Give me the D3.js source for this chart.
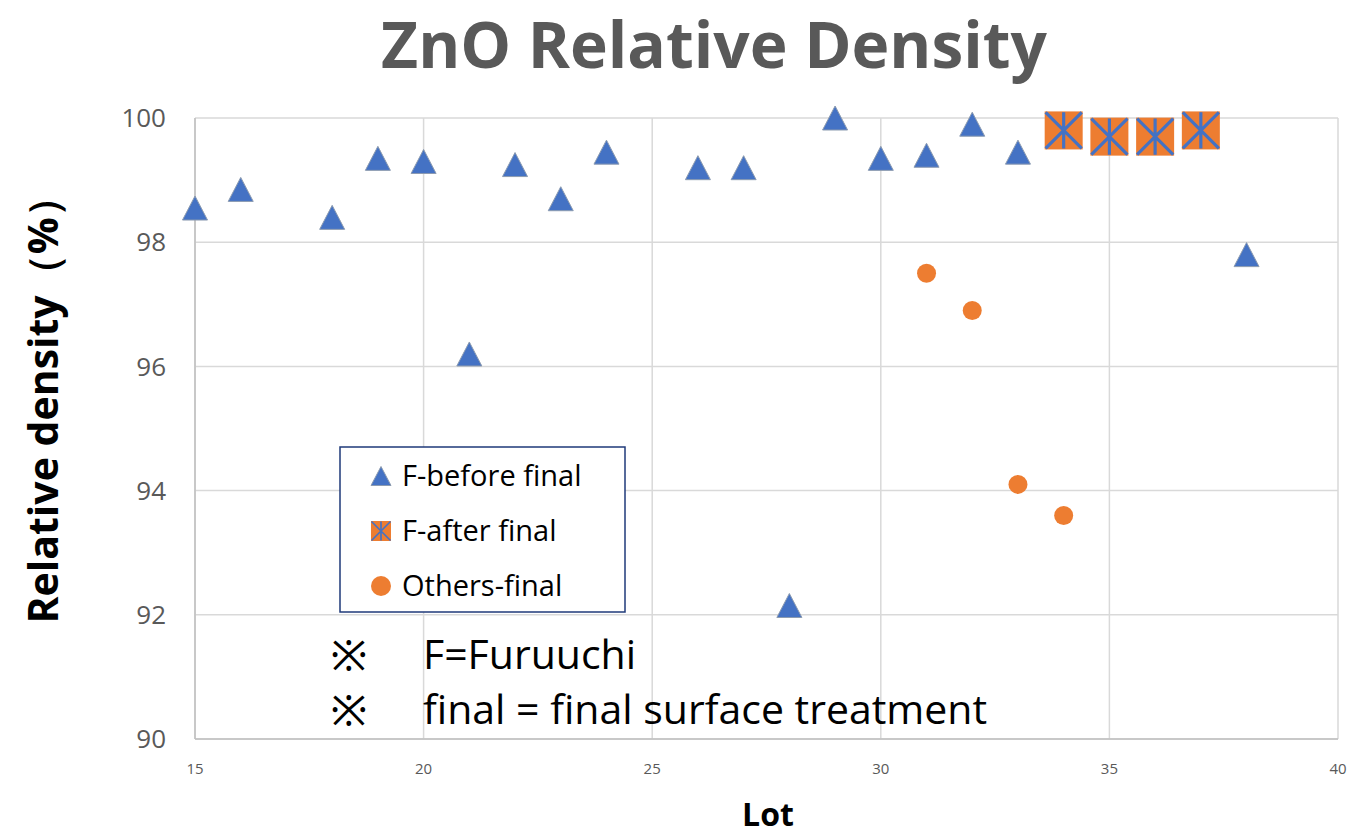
<!DOCTYPE html>
<html>
<head>
<meta charset="utf-8">
<script src="https://cdn.jsdelivr.net/npm/d3@7"></script>
<style>
  body { margin: 0; background: #fff; }
  text { font-family: "Open Sans", "Noto Sans", sans-serif; }
</style>
</head>
<body>
<div id="viz"></div>
<script>
const beforeLots = [15, 16, 18, 19, 20, 21, 22, 23, 24, 26, 27, 28, 29, 30, 31, 32, 33, 38];
const beforeVals = [98.55, 98.85, 98.4, 99.35, 99.3, 96.2, 99.25, 98.7, 99.45, 99.2, 99.2, 92.15, 100, 99.35, 99.4, 99.9, 99.45, 97.8];
const afterLots = [34, 35, 36, 37];
const afterVals = [99.8, 99.7, 99.7, 99.8];
const otherLots = [31, 32, 33, 34];
const otherVals = [97.5, 96.9, 94.1, 93.6];
const xTicks = [15, 20, 25, 30, 35, 40];
const yTicks = [90, 92, 94, 96, 98, 100];
const legendLabels = ['F-before final', 'F-after final', 'Others-final'];
const notes = ['F=Furuuchi', 'final = final surface treatment'];

const BLUE = '#4472c4', ORANGE = '#ed7d31', GRID = '#d9d9d9', GRAY = '#595959';

const svg = d3.select('#viz').append('svg')
  .attr('width', 1359).attr('height', 834);

const x = d3.scaleLinear().domain([15, 40]).range([195, 1338]);
const y = d3.scaleLinear().domain([90, 100]).range([739, 118]);

// grid
svg.append('g').selectAll('line').data(yTicks).join('line')
  .attr('x1', x(15)).attr('x2', x(40))
  .attr('y1', d => y(d)).attr('y2', d => y(d))
  .attr('stroke', GRID).attr('stroke-width', 1.5);
svg.append('g').selectAll('line').data(xTicks).join('line')
  .attr('x1', d => x(d)).attr('x2', d => x(d))
  .attr('y1', y(90)).attr('y2', y(100))
  .attr('stroke', GRID).attr('stroke-width', 1.5);
svg.append('line')
  .attr('x1', x(15)).attr('x2', x(40)).attr('y1', y(90)).attr('y2', y(90))
  .attr('stroke', '#bfbfbf').attr('stroke-width', 1.5);
svg.append('line')
  .attr('x1', x(15)).attr('x2', x(15)).attr('y1', y(90)).attr('y2', y(100))
  .attr('stroke', '#bfbfbf').attr('stroke-width', 1.5);

// tick labels
svg.append('g').selectAll('text').data(yTicks).join('text')
  .attr('x', 166).attr('y', d => y(d)).attr('dy', '0.35em')
  .attr('text-anchor', 'end').attr('font-size', 26).attr('fill', GRAY)
  .text(d => d);
svg.append('g').selectAll('text').data(xTicks).join('text')
  .attr('x', d => x(d)).attr('y', 774)
  .attr('text-anchor', 'middle').attr('font-size', 15).attr('fill', GRAY)
  .text(d => d);

// titles
svg.append('text').attr('x', 714).attr('y', 68)
  .attr('text-anchor', 'middle').attr('font-size', 64).attr('font-weight', 'bold')
  .attr('fill', GRAY).text('ZnO Relative Density');
svg.append('text').attr('x', 768).attr('y', 826)
  .attr('text-anchor', 'middle').attr('font-size', 32).attr('font-weight', 'bold')
  .attr('fill', '#000').text('Lot');
svg.append('text')
  .attr('transform', 'translate(58,400) rotate(-90)')
  .attr('text-anchor', 'middle').attr('font-size', 41).attr('font-weight', 'bold')
  .attr('fill', '#000').text('Relative density（%）');

// markers
function drawTri(g, cx, cy, w, h) {
  g.append('path')
    .attr('d', `M0,${-h / 2}L${w / 2},${h / 2}L${-w / 2},${h / 2}Z`)
    .attr('transform', `translate(${cx},${cy})`)
    .attr('fill', BLUE).attr('stroke', '#8c9bb0').attr('stroke-width', 1);
}
function drawSq(g, cx, cy, h) {
  const s = g.append('g').attr('transform', `translate(${cx},${cy})`);
  s.append('rect').attr('x', -h).attr('y', -h).attr('width', 2 * h).attr('height', 2 * h)
    .attr('fill', ORANGE);
  const k = h * 0.95;
  s.append('path')
    .attr('d', `M${-k},${-k}L${k},${k}M${-k},${k}L${k},${-k}M0,${-k}L0,${k}`)
    .attr('stroke', BLUE).attr('stroke-width', h / 6);
}

const before = beforeLots.map((l, i) => ({ lot: l, v: beforeVals[i] }));
const after = afterLots.map((l, i) => ({ lot: l, v: afterVals[i] }));
const others = otherLots.map((l, i) => ({ lot: l, v: otherVals[i] }));

const gm = svg.append('g');
after.forEach(d => drawSq(gm, x(d.lot), y(d.v), 19));
gm.selectAll('circle').data(others).join('circle')
  .attr('cx', d => x(d.lot)).attr('cy', d => y(d.v)).attr('r', 9.5)
  .attr('fill', ORANGE);
before.forEach(d => drawTri(gm, x(d.lot), y(d.v), 25, 24));

// legend
const lg = svg.append('g');
lg.append('rect').attr('x', 340).attr('y', 447).attr('width', 285).attr('height', 165)
  .attr('fill', '#fff').attr('stroke', '#1f3a7a').attr('stroke-width', 1.5);
const rowY = [476, 531, 586];
drawTri(lg, 381, rowY[0], 20, 19);
drawSq(lg, 381, rowY[1], 10);
lg.append('circle').attr('cx', 381).attr('cy', rowY[2]).attr('r', 10).attr('fill', ORANGE);
lg.selectAll('text').data(legendLabels).join('text')
  .attr('x', 402).attr('y', (d, i) => rowY[i]).attr('dy', '0.35em')
  .attr('font-size', 29).attr('fill', '#000').text(d => d);

// notes
notes.forEach((n, i) => {
  const cy = 655 + i * 55;
  svg.append('text').attr('x', 349).attr('y', cy).attr('dy', '0.36em')
    .attr('text-anchor', 'middle').attr('font-size', 44)
    .attr('font-family', '"Noto Sans CJK JP", sans-serif').attr('fill', '#000').text('※');
  svg.append('text').attr('x', 423).attr('y', cy).attr('dy', '0.35em')
    .attr('font-size', 41).attr('fill', '#000').text(n);
});
</script>
</body>
</html>
